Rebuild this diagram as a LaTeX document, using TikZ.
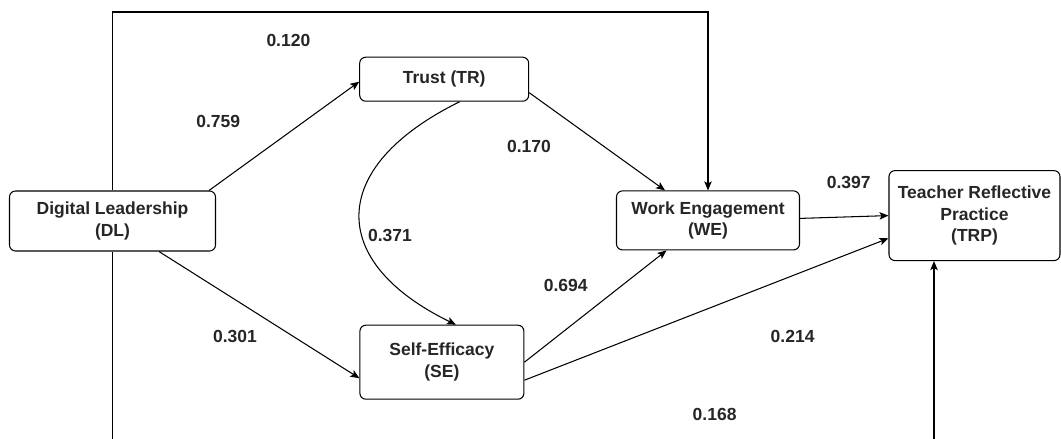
\documentclass[tikz,border=0pt]{standalone}
\usepackage{fontspec}
\setmainfont{Liberation Sans}
\usetikzlibrary{arrows.meta,calc}
\begin{document}
\begin{tikzpicture}[x=1pt,y=-1pt,
  every node/.style={font=\fontsize{17.5}{21.5}\selectfont\bfseries, text=black!85},
  box/.style={draw=black, line width=1.05pt, rounded corners=6pt, align=center, inner sep=0pt},
  lbl/.style={inner sep=0pt},
  arr/.style={draw=black, line width=1.05pt, -{Stealth[length=9pt,width=7.5pt,inset=2pt]}}]
\useasboundingbox (0,0) rectangle (1061,439);
\fill[white] (0,0) rectangle (1061,439);
% boxes
\node[box, minimum width=206pt, minimum height=60pt] (DL) at (112.5,221) {Digital Leadership\\(DL)};
\node[box, minimum width=169pt, minimum height=44pt] (TR) at (444.2,79.2) {Trust (TR)};
\node[box, minimum width=164pt, minimum height=74pt] (SE) at (441.9,362.2) {Self-Efficacy\\(SE)};
\node[box, minimum width=183pt, minimum height=59pt] (WE) at (708,220.4) {Work Engagement\\(WE)};
\node[box, minimum width=171pt, minimum height=90pt] (TRP) at (974.5,215.6) {Teacher Reflective\\Practice\\(TRP)};
% connectors
\coordinate (T) at (400,12);
\draw[arr] (DL.north) |- (T) -| (WE.north);
\draw[arr] ([xshift=-7pt]DL.north east) -- ([yshift=-2.5pt]TR.west);
\draw[arr] ([xshift=46.5pt]DL.south) -- ([yshift=-16pt]SE.west);
\draw[arr] ([yshift=-13.5pt]TR.east) -- ([xshift=-43pt]WE.north);
\draw[arr] ([xshift=15.5pt]TR.south) .. controls (327,167) and (327,262) .. ([xshift=14pt]SE.north);
\draw[arr] (SE.east) -- ([xshift=-41.5pt]WE.south);
\draw[arr] ([yshift=-18pt]SE.east) -- ([yshift=-22.7pt]TRP.west);
\draw[arr] ([yshift=2pt]WE.east) -- (TRP.west);
\begin{scope}
\clip (0,0) rectangle (1061,439);
\coordinate (B) at (500,470);
\draw[arr] (DL.south) |- (B) -| ([xshift=-40.5pt]TRP.south);
\end{scope}
% labels
\node[lbl] (l120) at (288.4,40) {0.120};
\node[lbl] (l759) at (218.3,121.7) {0.759};
\node[lbl] (l170) at (529,146.7) {0.170};
\node[lbl] (l397) at (848.7,182.7) {0.397};
\node[lbl] (l371) at (390,235) {0.371};
\node[lbl] (l301) at (235,336) {0.301};
\node[lbl] (l694) at (565.7,285.7) {0.694};
\node[lbl] (l214) at (792.6,336) {0.214};
\node[lbl] (l168) at (714.6,414.3) {0.168};
\end{tikzpicture}
\end{document}
